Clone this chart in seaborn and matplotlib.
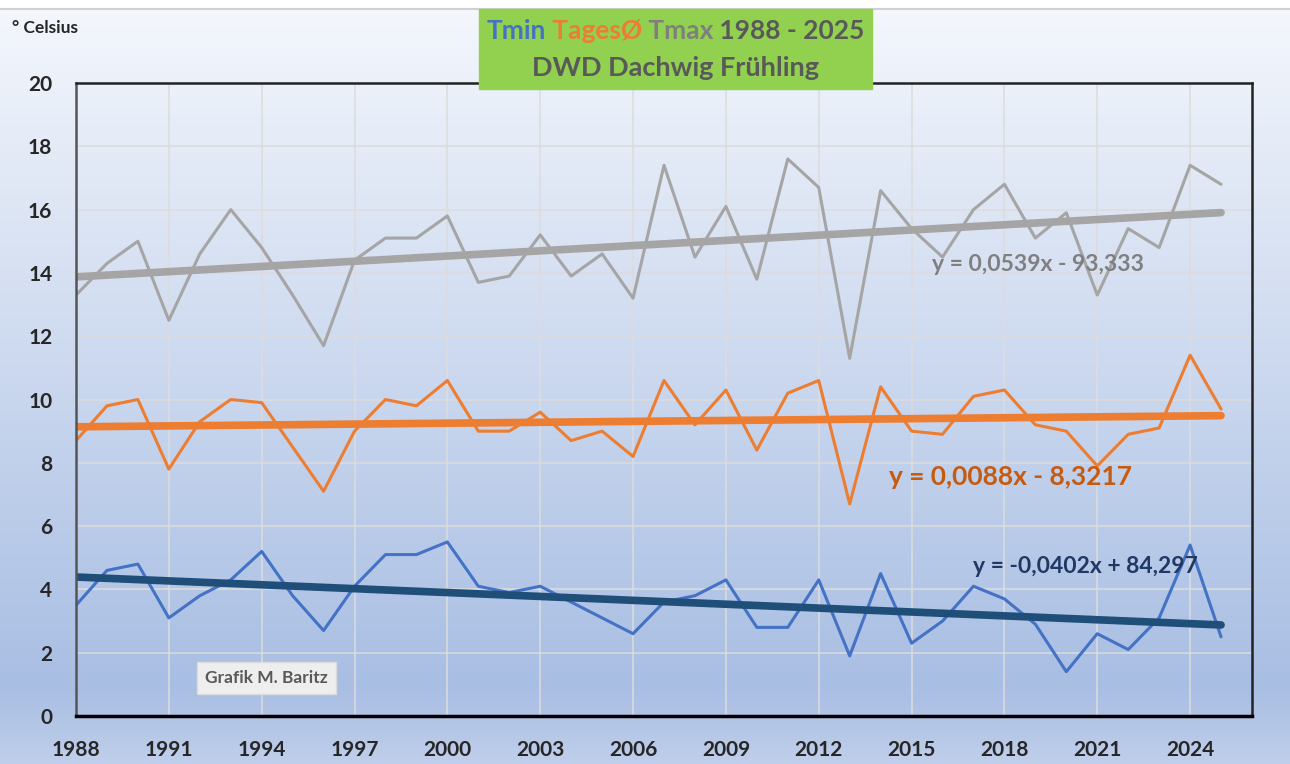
import matplotlib
matplotlib.use("Agg")
import matplotlib.pyplot as plt
from matplotlib.patches import Rectangle
import numpy as np
import seaborn as sns

# Fruehling, DWD Station Dachwig, Jahreswerte
years = list(range(1988, 2026))
tmax = [13.3, 14.3, 15.0, 12.5, 14.6, 16.0, 14.8, 13.3, 11.7, 14.4,
        15.1, 15.1, 15.8, 13.7, 13.9, 15.2, 13.9, 14.6, 13.2, 17.4,
        14.5, 16.1, 13.8, 17.6, 16.7, 11.3, 16.6, 15.4, 14.5, 16.0,
        16.8, 15.1, 15.9, 13.3, 15.4, 14.8, 17.4, 16.8]
tages = [8.7, 9.8, 10.0, 7.8, 9.3, 10.0, 9.9, 8.5, 7.1, 9.0,
         10.0, 9.8, 10.6, 9.0, 9.0, 9.6, 8.7, 9.0, 8.2, 10.6,
         9.2, 10.3, 8.4, 10.2, 10.6, 6.7, 10.4, 9.0, 8.9, 10.1,
         10.3, 9.2, 9.0, 7.9, 8.9, 9.1, 11.4, 9.7]
tmin = [3.5, 4.6, 4.8, 3.1, 3.8, 4.3, 5.2, 3.8, 2.7, 4.1,
        5.1, 5.1, 5.5, 4.1, 3.9, 4.1, 3.6, 3.1, 2.6, 3.6,
        3.8, 4.3, 2.8, 2.8, 4.3, 1.9, 4.5, 2.3, 3.0, 4.1,
        3.7, 2.9, 1.4, 2.6, 2.1, 3.1, 5.4, 2.5]

x_ticks = list(range(1988, 2027, 3))
y_ticks = list(range(0, 21, 2))

eq_tmax = "y = 0,0539x - 93,333"
eq_tages = "y = 0,0088x - 8,3217"
eq_tmin = "y = -0,0402x + 84,297"

c_blue = "#4472c4"
c_orange = "#ed7d31"
c_gray = "#a5a5a5"
c_navy = "#1f4e79"

sns.set_style("white")
plt.rcParams["font.family"] = ["Lato", "DejaVu Sans"]

fig = plt.figure(figsize=(12.9, 7.64), dpi=100)

# hintergrund verlauf
bg = fig.add_axes([0, 0, 1, 1], zorder=-10)
grad = np.linspace(0, 1, 256)
c_top = np.array([0.96, 0.97, 0.99])
c_mid = np.array([0.66, 0.745, 0.89])
c_bot = np.array([0.75, 0.81, 0.92])
cols = np.where(grad[:, None] < 0.9,
                c_top + (c_mid - c_top) * (grad[:, None] / 0.9),
                c_mid + (c_bot - c_mid) * ((grad[:, None] - 0.9) / 0.1))
bg.imshow(cols[:, None, :], aspect="auto", extent=[0, 1, 0, 1])
bg.add_patch(Rectangle((0, 1 - 9 / 764), 1, 9 / 764, color="white"))
bg.axhline(1 - 9 / 764, color="#d0d0d0", lw=1.5)
bg.set_xlim(0, 1)
bg.set_ylim(0, 1)
bg.axis("off")

ax = fig.add_axes([76 / 1290, 48 / 764, 1176 / 1290, 633 / 764])
ax.set_facecolor("none")

# messwerte
sns.lineplot(x=years, y=tmax, color=c_gray, lw=2.2, ax=ax)
sns.lineplot(x=years, y=tages, color=c_orange, lw=2.2, ax=ax)
sns.lineplot(x=years, y=tmin, color=c_blue, lw=2.2, ax=ax)

# lineare trends
sns.regplot(x=years, y=tmax, scatter=False, ci=None, color=c_gray,
            line_kws={"lw": 5.5, "solid_capstyle": "round"}, ax=ax)
sns.regplot(x=years, y=tages, scatter=False, ci=None, color=c_orange,
            line_kws={"lw": 5.5, "solid_capstyle": "round"}, ax=ax)
sns.regplot(x=years, y=tmin, scatter=False, ci=None, color=c_navy,
            line_kws={"lw": 5.5, "solid_capstyle": "round"}, ax=ax)

ax.set_xlim(1988, 2026)
ax.set_ylim(0, 20)
ax.set_xticks(x_ticks)
ax.set_yticks(y_ticks)
ax.set_xticklabels([str(t) for t in x_ticks], fontsize=15, fontweight="bold")
ax.set_yticklabels([str(t) for t in y_ticks], fontsize=15, fontweight="bold")
ax.grid(True, color="#dcdcdc", lw=1.1)
ax.tick_params(axis="x", direction="out", length=7, width=2.2, color="black", pad=10)
ax.tick_params(axis="y", direction="out", length=7, width=1, color="#d0d0d0", pad=10)
for side in ["top", "right"]:
    ax.spines[side].set_color("#222222")
    ax.spines[side].set_linewidth(1.8)
ax.spines["left"].set_color("#555555")
ax.spines["left"].set_linewidth(1.8)
ax.spines["bottom"].set_color("black")
ax.spines["bottom"].set_linewidth(2.5)
ax.set_xlabel("")
ax.set_ylabel("")

# gleichungen
ax.text(2019.1, 14.25, eq_tmax, color="#7f7f7f", fontsize=16.5, fontweight="bold",
        ha="center", va="center")
ax.text(2018.2, 7.55, eq_tages, color="#c55a11", fontsize=19, fontweight="bold",
        ha="center", va="center")
ax.text(2020.6, 4.71, eq_tmin, color="#1f3864", fontsize=16.5, fontweight="bold",
        ha="center", va="center")

ax.text(1994.15, 1.2, "Grafik M. Baritz", color="#595959", fontsize=12.5,
        fontweight="bold", ha="center", va="center",
        bbox=dict(boxstyle="square,pad=0.45", fc="#eeeeee", ec="#dddddd"))

fig.text(12 / 1290, 1 - 28 / 764, "° Celsius", fontsize=12.5, fontweight="bold",
         ha="left", va="center")

# titelbox
fig.patches.append(Rectangle((479 / 1290, 1 - 89 / 764), 393 / 1290, 80 / 764,
                             transform=fig.transFigure, color="#92d050", zorder=1))
t1 = fig.text(0, 0, "Tmin", color=c_blue, fontsize=19,
              fontweight="bold", va="center", ha="left", zorder=2)
t2 = fig.text(0, 0, " TagesØ", color=c_orange, fontsize=19, fontweight="bold",
              va="center", ha="left", zorder=2)
t3 = fig.text(0, 0, " Tmax", color="#7f7f7f", fontsize=19, fontweight="bold",
              va="center", ha="left", zorder=2)
t4 = fig.text(0, 0, " 1988 - 2025", color="#595959", fontsize=19, fontweight="bold",
              va="center", ha="left", zorder=2)
fig.canvas.draw()
r = fig.canvas.get_renderer()
parts = [t1, t2, t3, t4]
widths = [p.get_window_extent(r).width for p in parts]
x0 = (675.5 - sum(widths) / 2) / 1290
for p, w in zip(parts, widths):
    p.set_position((x0, 1 - 31 / 764))
    x0 += w / 1290
fig.text(675.5 / 1290, 1 - 68 / 764, "DWD Dachwig Frühling", color="#595959",
         fontsize=19.5, fontweight="bold", ha="center", va="center", zorder=2)

fig.savefig("out.png", dpi=100)
